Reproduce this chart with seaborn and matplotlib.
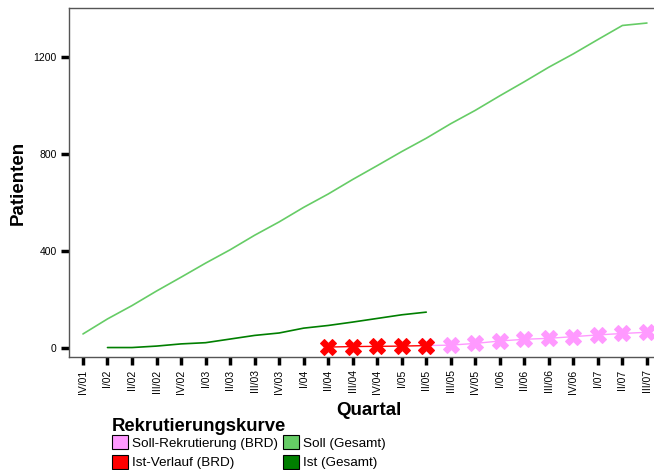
import numpy as np
import pandas as pd
import seaborn as sns
from matplotlib import pyplot as plt
from matplotlib.patches import Patch

quarters = ["IV/01", "I/02", "II/02", "III/02", "IV/02", "I/03", "II/03", "III/03",
            "IV/03", "I/04", "II/04", "III/04", "IV/04", "I/05", "II/05", "III/05",
            "IV/05", "I/06", "II/06", "III/06", "IV/06", "I/07", "II/07", "III/07"]

soll_gesamt = [58, 120, 175, 235, 292, 350, 405, 465, 520, 580, 635, 695,
               752, 810, 865, 925, 980, 1040, 1098, 1158, 1213, 1272, 1330, 1340]

ist_quarters = quarters[1:15]
ist_gesamt = [2, 2, 8, 17, 22, 37, 52, 62, 82, 93, 107, 122, 137, 148]

ist_brd_quarters = quarters[10:15]
ist_brd = [4, 6, 7, 8, 10]

soll_brd_quarters = quarters[14:]
soll_brd = [10, 12, 19, 29, 36, 40, 47, 54, 60, 65]

c_pink = "#ff99ff"
c_red = "#ff0000"
c_light = "#66cc66"
c_dark = "#007f00"


def frame(qs, vals):
    df = pd.DataFrame({"Quartal": qs, "Patienten": vals})
    df["pos"] = df["Quartal"].map({q: i for i, q in enumerate(quarters)})
    return df


def main():
    sns.set_style("white")
    plt.rcParams["font.family"] = ["Liberation Sans", "DejaVu Sans"]
    for key in ["text.color", "axes.labelcolor", "xtick.color", "ytick.color",
                "legend.labelcolor"]:
        plt.rcParams[key] = "black"

    fig = plt.figure(figsize=(6.54, 4.70), dpi=100)
    ax = fig.add_axes([69 / 654, 113 / 470, 600 / 654, 349 / 470])

    sns.lineplot(data=frame(quarters, soll_gesamt), x="pos", y="Patienten",
                 color=c_light, lw=1.2, ax=ax)
    sns.lineplot(data=frame(ist_quarters, ist_gesamt), x="pos", y="Patienten",
                 color=c_dark, lw=1.2, ax=ax)
    sns.lineplot(data=frame(soll_brd_quarters, soll_brd), x="pos", y="Patienten",
                 color=c_pink, lw=1.0, marker="X", markersize=12,
                 markeredgecolor=c_pink, ax=ax)
    sns.lineplot(data=frame(ist_brd_quarters, ist_brd), x="pos", y="Patienten",
                 color=c_red, lw=1.0, marker="X", markersize=12,
                 markeredgecolor=c_red, ax=ax)

    ax.set_xlim(-0.57, 23.9)
    ax.set_ylim(-37, 1402)
    ax.set_xticks(range(len(quarters)))
    ax.set_xticklabels(quarters, rotation=90, fontsize=7.5)
    ax.set_yticks([0, 400, 800, 1200])
    ax.set_yticklabels(["0", "400", "800", "1200"], fontsize=7.5)
    ax.tick_params(axis="both", direction="out", length=6, width=2.5,
                   color="black", pad=3, left=True, bottom=True)

    for side in ["left", "bottom", "top"]:
        ax.spines[side].set_color("#555555")
        ax.spines[side].set_linewidth(1.0)
    ax.spines["right"].set_visible(False)

    ax.set_xlabel("Quartal", fontsize=13.5, fontweight="bold", labelpad=6)
    ax.set_ylabel("Patienten", fontsize=13.5, fontweight="bold", labelpad=5)

    handles = [Patch(facecolor=c_pink, edgecolor="black", lw=0.8),
               Patch(facecolor=c_red, edgecolor="black", lw=0.8),
               Patch(facecolor=c_light, edgecolor="black", lw=0.8),
               Patch(facecolor=c_dark, edgecolor="black", lw=0.8)]
    labels = ["Soll-Rekrutierung (BRD)", "Ist-Verlauf (BRD)",
              "Soll (Gesamt)", "Ist (Gesamt)"]
    leg = fig.legend(handles, labels, ncol=2, loc="upper left",
                     bbox_to_anchor=(104 / 654, 1 - 410 / 470),
                     frameon=False, fontsize=9.7, title="Rekrutierungskurve",
                     handlelength=1.2, handleheight=1.2, handletextpad=0.3,
                     columnspacing=0.35, labelspacing=0.4, borderpad=0.1)
    leg.get_title().set_fontweight("bold")
    leg.get_title().set_fontsize(13.3)
    leg.get_title().set_color("black")
    leg._legend_box.align = "left"
    leg._legend_box.sep = 0

    fig.savefig("out.png", dpi=100)


if __name__ == "__main__":
    main()
